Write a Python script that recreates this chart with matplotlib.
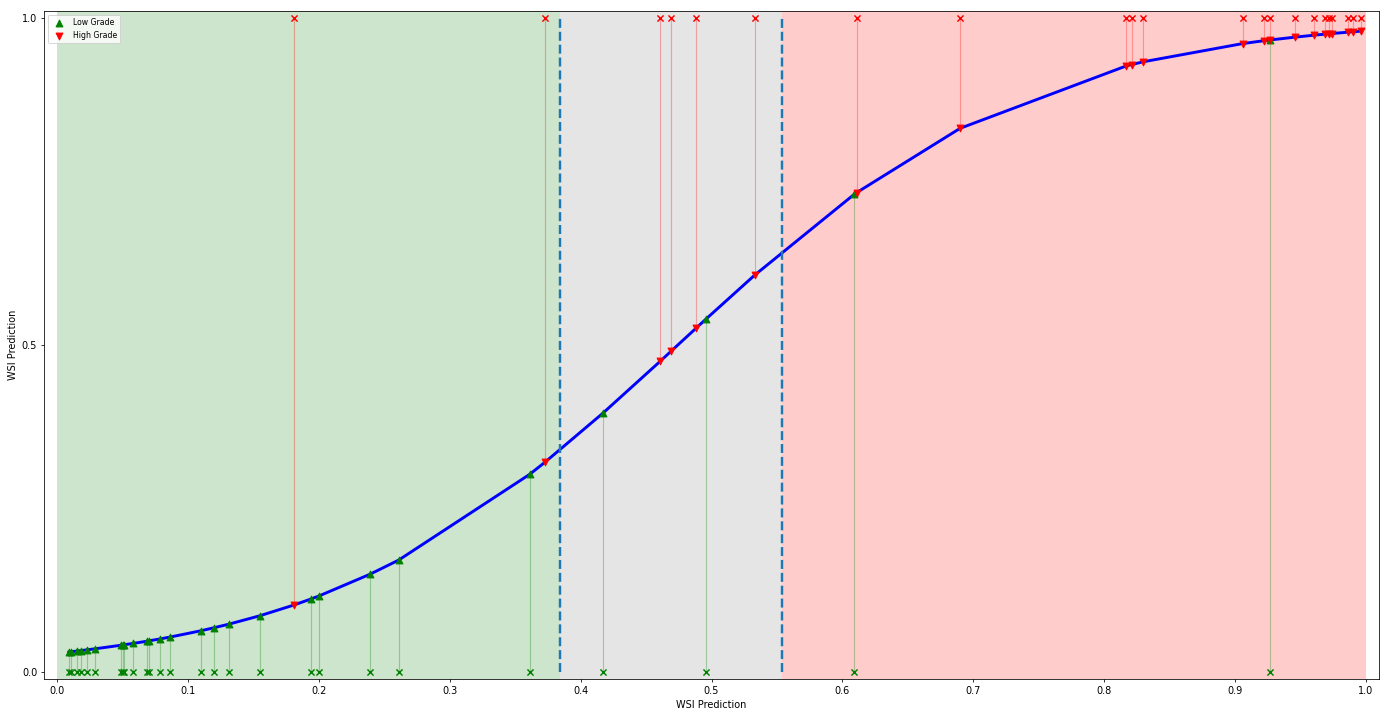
import numpy as np
import matplotlib
matplotlib.use("Agg")
import matplotlib.pyplot as plt

# Low grade cases: WSI prediction (x) and calibrated value on curve (y)
low_x = [0.009, 0.011, 0.015, 0.018, 0.023, 0.029, 0.049, 0.050, 0.051, 0.058,
         0.069, 0.070, 0.079, 0.086, 0.110, 0.120, 0.131, 0.155, 0.194, 0.200,
         0.239, 0.261, 0.361, 0.417, 0.496, 0.609, 0.927]
low_y = [0.0312, 0.0317, 0.0327, 0.0333, 0.0346, 0.0361, 0.0416, 0.0419, 0.0422, 0.0443,
         0.0478, 0.0482, 0.0513, 0.0539, 0.0637, 0.0683, 0.0736, 0.0866, 0.1122, 0.1167,
         0.1499, 0.1716, 0.3024, 0.3959, 0.5400, 0.7300, 0.9658]

# High grade cases
high_x = [0.181, 0.373, 0.461, 0.469, 0.488, 0.533, 0.611, 0.690, 0.817, 0.821,
          0.830, 0.906, 0.922, 0.927, 0.946, 0.960, 0.969, 0.972, 0.974, 0.986,
          0.990, 0.996]
high_y = [0.1030, 0.3214, 0.4755, 0.4903, 0.5253, 0.6067, 0.7328, 0.8309, 0.9262, 0.9282,
          0.9325, 0.9603, 0.9646, 0.9658, 0.9701, 0.9730, 0.9747, 0.9752, 0.9756, 0.9776,
          0.9783, 0.9792]

thresholds = [0.384, 0.554]

fig = plt.figure(figsize=(1389 / 70, 708 / 70), dpi=70)
ax = fig.add_axes([44 / 1389, 1 - 679 / 708, (1379 - 44) / 1389, (679 - 11) / 708])

ax.axvspan(0, thresholds[0], color="green", alpha=0.2, lw=0)
ax.axvspan(thresholds[0], thresholds[1], color="gray", alpha=0.2, lw=0)
ax.axvspan(thresholds[1], 1.0, color="red", alpha=0.2, lw=0)

ax.vlines(low_x, 0, low_y, color="green", alpha=0.3, lw=1.2)
ax.vlines(high_x, high_y, 1, color="red", alpha=0.3, lw=1.2)

ax.scatter(low_x, np.zeros(len(low_x)), marker="x", color="green", s=40, zorder=3)
ax.scatter(high_x, np.ones(len(high_x)), marker="x", color="red", s=40, zorder=3)

all_x = np.array(low_x + high_x)
all_y = np.array(low_y + high_y)
order = np.argsort(all_x)
ax.plot(all_x[order], all_y[order], color="blue", lw=3, zorder=4)

ax.scatter(low_x, low_y, marker="^", color="green", s=50, zorder=5, label="Low Grade")
ax.scatter(high_x, high_y, marker="v", color="red", s=50, zorder=5, label="High Grade")

ax.vlines(thresholds, 0, 1, colors="tab:blue", linestyles="--", lw=2.5, zorder=4.5)

ax.set_xlim(-0.01, 1.01)
ax.set_ylim(-0.01, 1.01)
ax.set_xticks(np.arange(0, 1.01, 0.1))
ax.set_yticks([0.0, 0.5, 1.0])
ax.set_xlabel("WSI Prediction")
ax.set_ylabel("WSI Prediction")
ax.legend(loc="upper left", fontsize=8)

fig.savefig("out.png", dpi=70)
